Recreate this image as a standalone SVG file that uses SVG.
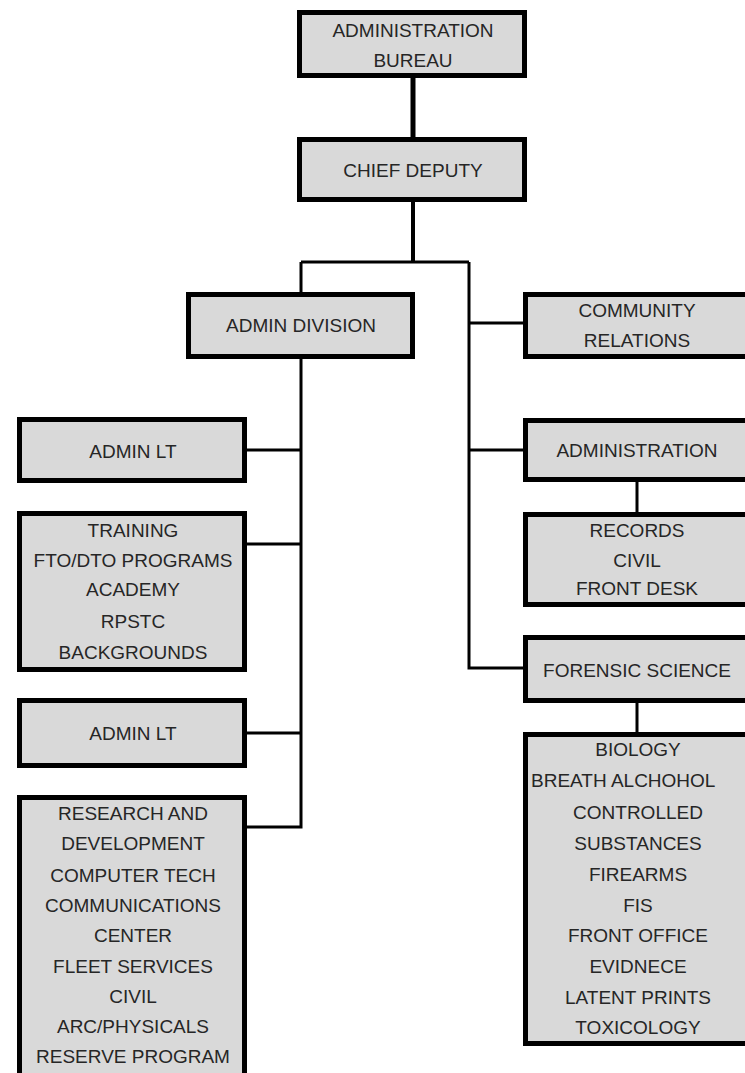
<svg xmlns="http://www.w3.org/2000/svg" width="745" height="1073" viewBox="0 0 745 1073">
<style>
.box{fill:#d9d9d9;stroke:#000;stroke-width:5}
.t{font-family:"Liberation Sans",Arial,sans-serif;font-size:19px;fill:#262626;text-anchor:middle}
.c{fill:none;stroke:#000;stroke-width:3}
</style>
<rect width="745" height="1073" fill="#fff"/>
<g id="connectors">
<path class="c" d="M413 78V137" stroke-width="5" style="stroke-width:5"/>
<path class="c" d="M413 202V262" style="stroke-width:4"/>
<path class="c" d="M301 262H469M301 262V292M469 262V668H523M469 323H523M469 450H523"/>
<path class="c" d="M637 482V512M637 703V732"/>
<path class="c" d="M301 359V827H247M247 450H301M247 544H301M247 733H301"/>
</g>
<g id="bureau"><rect class="box" x="299.5" y="12.5" width="225" height="63"/><text class="t" x="413" y="37">ADMINISTRATION</text><text class="t" x="413" y="67">BUREAU</text></g>
<g id="chief"><rect class="box" x="299.5" y="139.5" width="225" height="60"/><text class="t" x="413" y="177">CHIEF DEPUTY</text></g>
<g id="admin-division"><rect class="box" x="188.5" y="294.5" width="224" height="62"/><text class="t" x="301" y="332">ADMIN DIVISION</text></g>
<g id="community"><rect class="box" x="525.5" y="294.5" width="226" height="62"/><text class="t" x="637" y="317">COMMUNITY</text><text class="t" x="637" y="347">RELATIONS</text></g>
<g id="administration"><rect class="box" x="525.5" y="420.5" width="226" height="59"/><text class="t" x="637" y="457">ADMINISTRATION</text></g>
<g id="records"><rect class="box" x="525.5" y="514.5" width="226" height="90"/><text class="t" x="637" y="537">RECORDS</text><text class="t" x="637" y="567">CIVIL</text><text class="t" x="637" y="595">FRONT DESK</text></g>
<g id="forensic"><rect class="box" x="525.5" y="637.5" width="226" height="63"/><text class="t" x="637" y="677">FORENSIC SCIENCE</text></g>
<g id="forensic-list"><rect class="box" x="525.5" y="734.5" width="226" height="309"/>
<text class="t" x="638" y="756">BIOLOGY</text>
<text class="t" x="531" y="787" style="text-anchor:start">BREATH ALCHOHOL</text>
<text class="t" x="638" y="819">CONTROLLED</text>
<text class="t" x="638" y="850">SUBSTANCES</text>
<text class="t" x="638" y="881">FIREARMS</text>
<text class="t" x="638" y="912">FIS</text>
<text class="t" x="638" y="942">FRONT OFFICE</text>
<text class="t" x="638" y="973">EVIDNECE</text>
<text class="t" x="638" y="1004">LATENT PRINTS</text>
<text class="t" x="638" y="1034">TOXICOLOGY</text></g>
<g id="admin-lt-1"><rect class="box" x="19.5" y="419.5" width="225" height="61"/><text class="t" x="133" y="458">ADMIN LT</text></g>
<g id="training"><rect class="box" x="19.5" y="513.5" width="225" height="156"/>
<text class="t" x="133" y="537">TRAINING</text>
<text class="t" x="133" y="567">FTO/DTO PROGRAMS</text>
<text class="t" x="133" y="596">ACADEMY</text>
<text class="t" x="133" y="628">RPSTC</text>
<text class="t" x="133" y="659">BACKGROUNDS</text></g>
<g id="admin-lt-2"><rect class="box" x="19.5" y="700.5" width="225" height="65"/><text class="t" x="133" y="740">ADMIN LT</text></g>
<g id="research"><rect class="box" x="19.5" y="797.5" width="225" height="290"/>
<text class="t" x="133" y="820">RESEARCH AND</text>
<text class="t" x="133" y="850">DEVELOPMENT</text>
<text class="t" x="133" y="882">COMPUTER TECH</text>
<text class="t" x="133" y="912">COMMUNICATIONS</text>
<text class="t" x="133" y="942">CENTER</text>
<text class="t" x="133" y="973">FLEET SERVICES</text>
<text class="t" x="133" y="1003">CIVIL</text>
<text class="t" x="133" y="1033">ARC/PHYSICALS</text>
<text class="t" x="133" y="1063">RESERVE PROGRAM</text></g>
</svg>
